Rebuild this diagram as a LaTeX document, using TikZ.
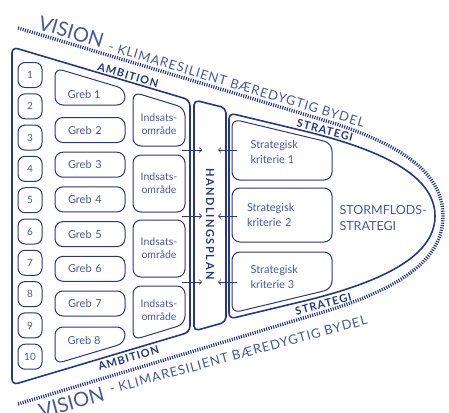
\documentclass[tikz,border=0pt]{standalone}
\usepackage{fontspec}
\setmainfont{Lato}
\usetikzlibrary{arrows.meta}
\definecolor{navy}{RGB}{38,54,138}
\definecolor{navytxt}{RGB}{72,88,160}

\begin{document}
\begin{tikzpicture}[x=1pt, y=-1pt,
    outline/.style={draw=navy, line width=1.6pt},
    boxline/.style={draw=navy, line width=1pt},
    visionline/.style={draw=navy, line width=3.4pt, dash pattern=on 1.1pt off 1.3pt},
    conn/.style={navy, line width=0.7pt, -{Straight Barb[length=2.5pt, width=5pt]}},
    numbox/.style={boxline, rounded corners=7pt, minimum width=24pt, minimum height=25pt, inner sep=0pt, text=navytxt, font=\fontsize{10}{12}\selectfont},
    grebbox/.style={boxline, rounded corners=8pt, text width=44pt, inner xsep=13pt, inner ysep=0pt, minimum height=25pt, align=left, text=navytxt, font=\fontsize{11}{13}\selectfont},
    grebtext/.style={text=navytxt, font=\fontsize{11}{13}\selectfont},
    indsbox/.style={boxline, rounded corners=8pt, minimum width=52pt, minimum height=57pt, inner sep=0pt, align=center, text=navytxt, font=\fontsize{10.5}{13}\selectfont},
    indstext/.style={align=center, text=navytxt, font=\fontsize{10.5}{13}\selectfont},
    kritbox/.style={boxline, rounded corners=8pt, text width=70pt, inner xsep=15pt, minimum height=54pt, align=left, text=navytxt, font=\fontsize{11}{15}\selectfont},
    krittext/.style={align=left, text=navytxt, font=\fontsize{11}{15}\selectfont},
    boldlabel/.style={text=navy, inner sep=1pt, font=\fontsize{11}{12}\selectfont\bfseries\addfontfeatures{LetterSpace=9}},
    visiontext/.style={text=navytxt, inner sep=0pt}]
\useasboundingbox (0,0) rectangle (449,412);

% vision
\draw[visionline] (18,28) -- (320,119) .. controls (400,143) and (443,172) .. (443,216)
    .. controls (443,260) and (400,289) .. (320,313) -- (18,404);
\node[visiontext, anchor=base west, rotate=-16.8] (vtop) at (37,29)
    {{\fontsize{20}{20}\selectfont VISION}\hspace{7pt}{\fontsize{13}{13}\selectfont\addfontfeatures{LetterSpace=7}- KLIMARESILIENT BÆREDYGTIG BYDEL}};
\node[visiontext, anchor=north west, rotate=15.2] (vbot) at (37,404)
    {{\fontsize{20}{20}\selectfont VISION}\hspace{7pt}\raisebox{5pt}{\fontsize{13}{13}\selectfont\addfontfeatures{LetterSpace=7}- KLIMARESILIENT BÆREDYGTIG BYDEL}};

% ambition
\draw[outline, rounded corners=6pt] (12,47) -- (190,100) -- (190,332) -- (12,385) -- cycle;
\node[boldlabel, anchor=base, rotate=-16.6] (amtop) at (127,79) {AMBITION};
\node[boldlabel, anchor=north, rotate=16.6] (ambot) at (127,353) {AMBITION};

\foreach \i in {1,...,10}
    \node[numbox] (n\i) at (30,{75+31.3*(\i-1)}) {\i};

\draw[boxline, rounded corners=8pt] (55,68) -- (125,89) -- (125,105) -- (55,105) -- cycle;
\node[grebtext] (g1) at (84,94) {Greb 1};
\foreach \i in {2,...,7}
    \node[grebbox] (g\i) at (90,{130+34.7*(\i-2)}) {Greb \i};
\draw[boxline, rounded corners=8pt] (55,327) -- (125,327) -- (125,343) -- (55,364) -- cycle;
\node[grebtext] (g8) at (84,340) {Greb 8};

\draw[boxline, rounded corners=8pt] (133,92) -- (185,108) -- (185,146) -- (133,146) -- cycle;
\node[indstext] (ia1) at (159,124) {Indsats-\\område};
\node[indsbox] (ia2) at (159,183.5) {Indsats-\\område};
\node[indsbox] (ia3) at (159,248.5) {Indsats-\\område};
\draw[boxline, rounded corners=8pt] (133,286) -- (185,286) -- (185,324) -- (133,340) -- cycle;
\node[indstext] (ia4) at (159,310) {Indsats-\\område};

% handlingsplan
\draw[outline, rounded corners=5pt] (194,100) -- (226,108) -- (226,322) -- (194,331) -- cycle;
\node[boldlabel, rotate=-90, font=\fontsize{11}{12}\selectfont\bfseries\addfontfeatures{LetterSpace=14}] (hp) at (210,224) {HANDLINGSPLAN};

% strategi
\draw[outline] (300,130) .. controls (380,149) and (435,175) .. (435,216)
    .. controls (435,257) and (380,283) .. (300,302)
    {[rounded corners=6pt] -- (229,319) -- (229,113) -- (300,130)};
\node[boldlabel, anchor=base, rotate=-14.5] (sttop) at (324,134) {STRATEGI};
\node[boldlabel, anchor=north, rotate=14.5] (stbot) at (322,299) {STRATEGI};

\draw[boxline, rounded corners=8pt] (232,119) -- (332,143) -- (332,180) -- (232,180) -- cycle;
\node[krittext, anchor=west] (k1) at (247,152) {Strategisk\\kriterie 1};
\node[kritbox] (k2) at (282,215) {Strategisk\\kriterie 2};
\draw[boxline, rounded corners=8pt] (232,252) -- (332,252) -- (332,289) -- (232,313) -- cycle;
\node[krittext, anchor=west] (k3) at (247,277) {Strategisk\\kriterie 3};

\node[align=left, anchor=west, text=navytxt, font=\fontsize{12.5}{16}\selectfont] (storm) at (336,218) {STORMFLODS-\\STRATEGI};

% pile
\foreach \y [count=\k] in {150,216,282} {
    \coordinate (ind\k) at (182,\y);
    \coordinate (hpl\k) at (202,\y);
    \coordinate (krt\k) at (237,\y);
    \coordinate (hpr\k) at (218,\y);
    \draw[conn] (ind\k) -- (hpl\k);
    \draw[conn] (krt\k) -- (hpr\k);
}
\end{tikzpicture}
\end{document}
